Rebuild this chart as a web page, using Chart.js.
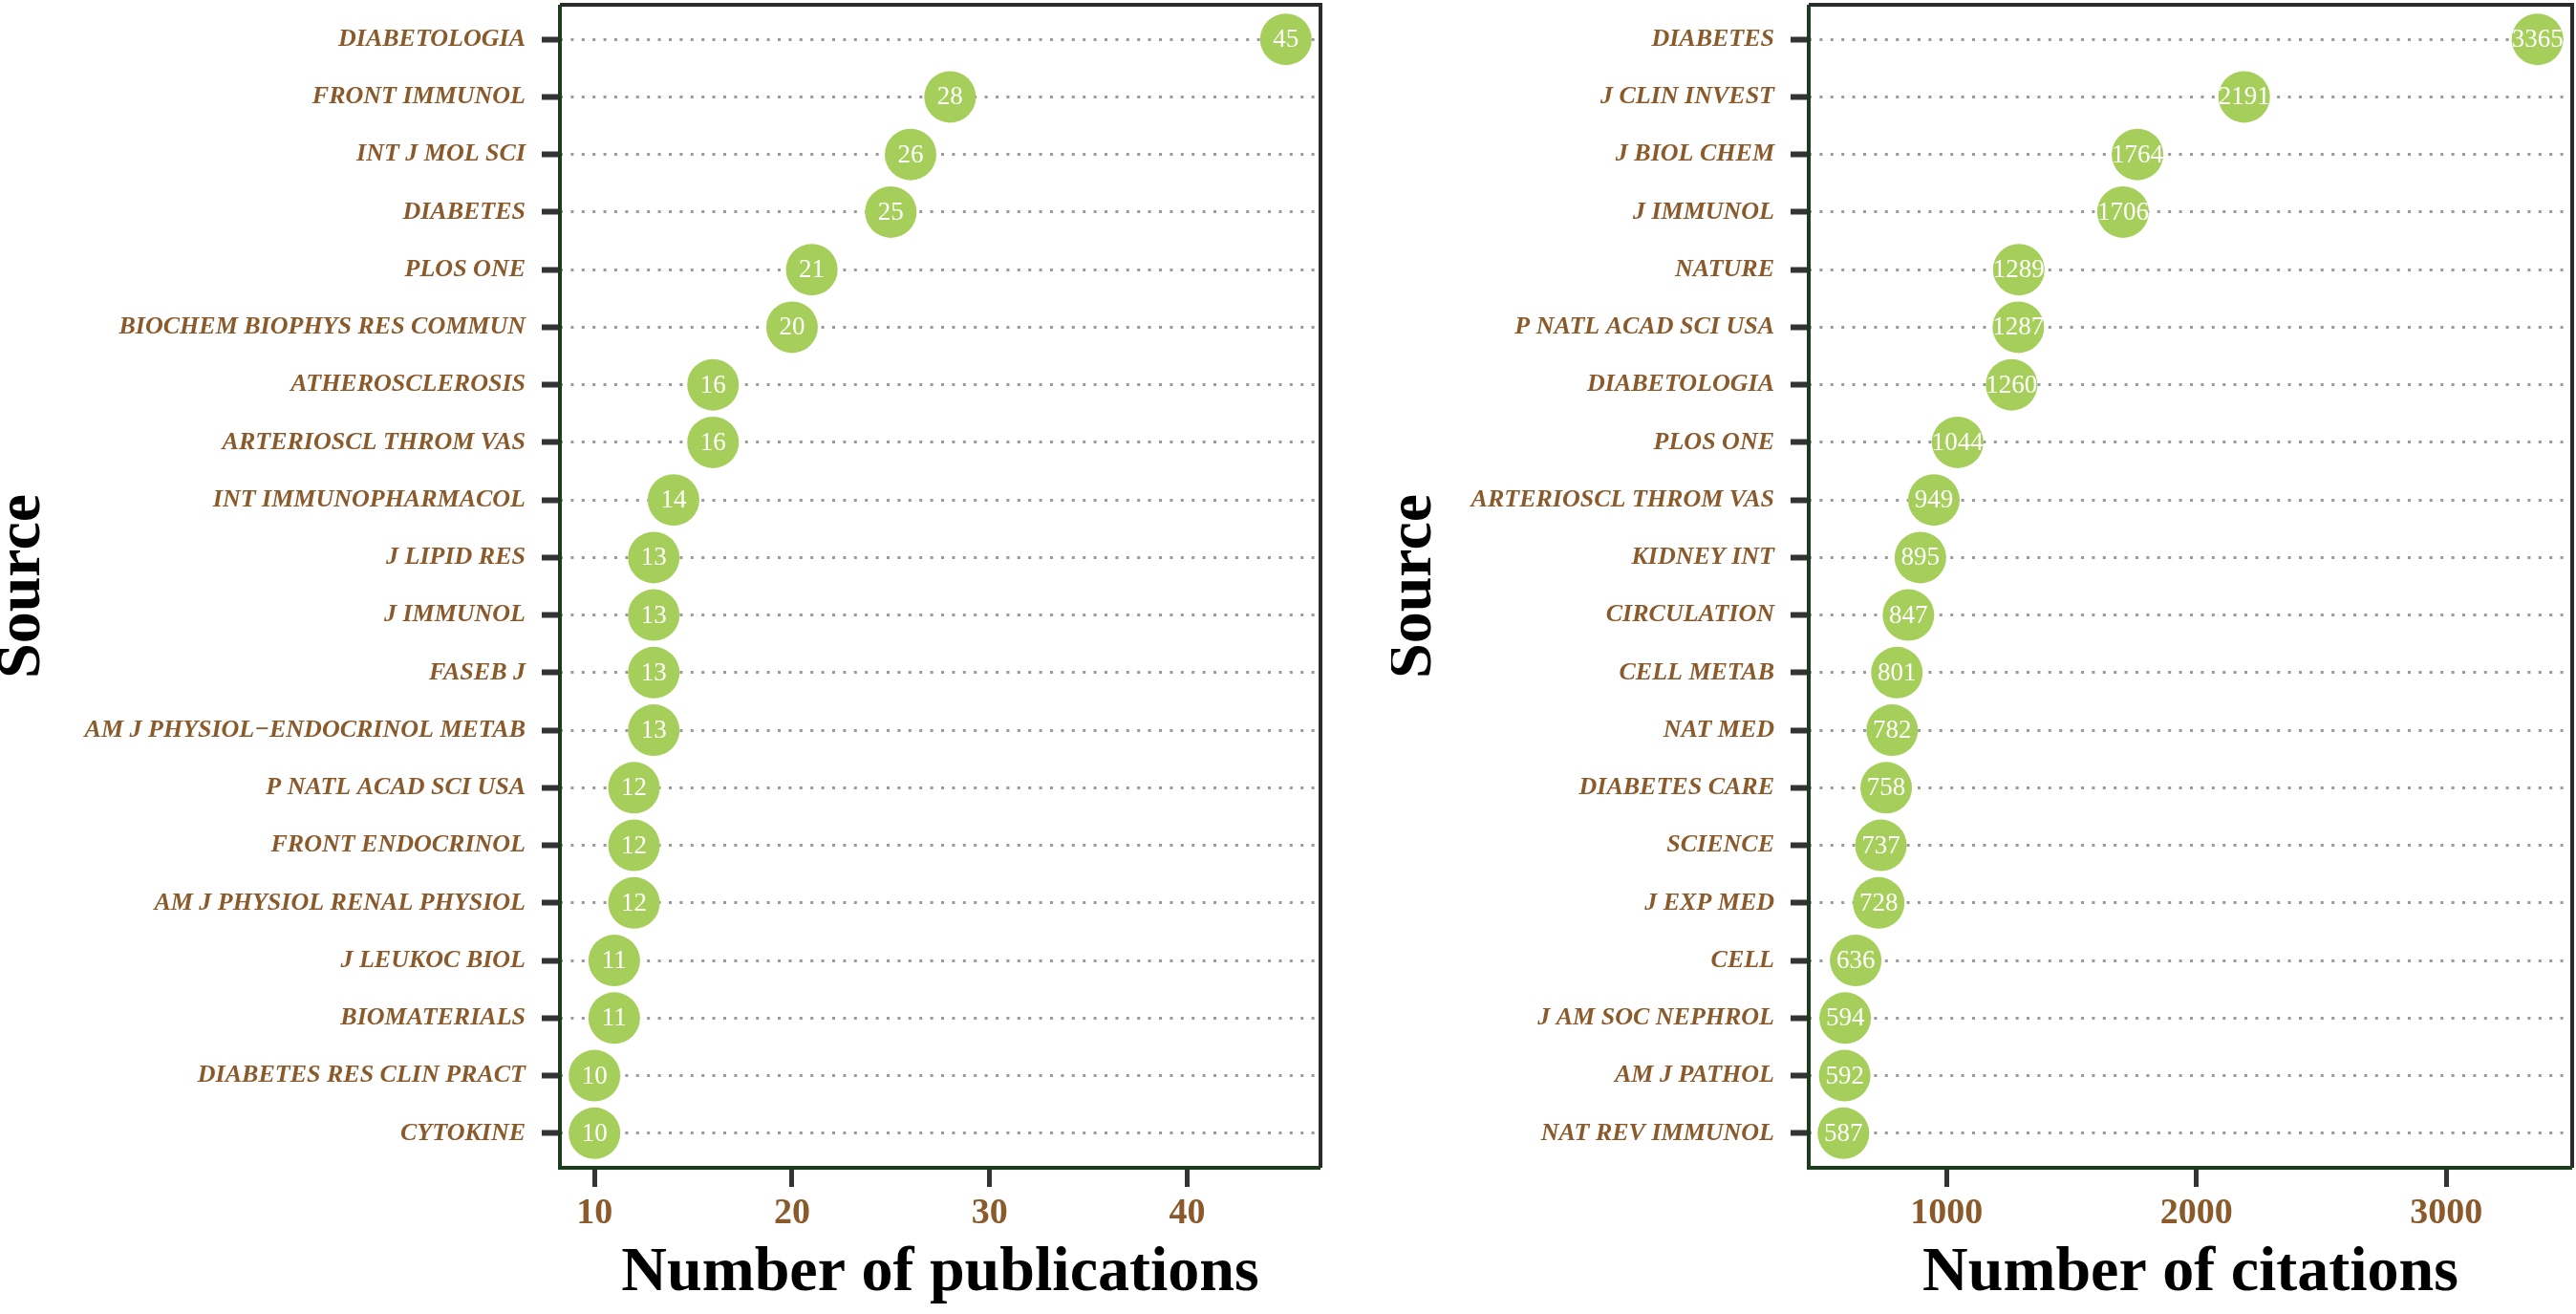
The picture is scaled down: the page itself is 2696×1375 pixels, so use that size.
<!DOCTYPE html>
<html><head><meta charset="utf-8">
<script src="https://cdn.jsdelivr.net/npm/chart.js@4.4.0/dist/chart.umd.min.js"></script>
<style>
html,body{margin:0;padding:0;background:#fff;width:2696px;height:1375px;overflow:hidden}
canvas{position:absolute;top:0}
#c1{left:0}
#c2{left:1456px}
</style></head><body>
<canvas id="c1" width="1400" height="1375" style="width:1400px;height:1375px"></canvas>
<canvas id="c2" width="1240" height="1375" style="width:1240px;height:1375px"></canvas>
<script>
const pubSources = ["DIABETOLOGIA","FRONT IMMUNOL","INT J MOL SCI","DIABETES","PLOS ONE","BIOCHEM BIOPHYS RES COMMUN","ATHEROSCLEROSIS","ARTERIOSCL THROM VAS","INT IMMUNOPHARMACOL","J LIPID RES","J IMMUNOL","FASEB J","AM J PHYSIOL\u2212ENDOCRINOL METAB","P NATL ACAD SCI USA","FRONT ENDOCRINOL","AM J PHYSIOL RENAL PHYSIOL","J LEUKOC BIOL","BIOMATERIALS","DIABETES RES CLIN PRACT","CYTOKINE"];
const pubCounts = [45,28,26,25,21,20,16,16,14,13,13,13,13,12,12,12,11,11,10,10];
const citSources = ["DIABETES","J CLIN INVEST","J BIOL CHEM","J IMMUNOL","NATURE","P NATL ACAD SCI USA","DIABETOLOGIA","PLOS ONE","ARTERIOSCL THROM VAS","KIDNEY INT","CIRCULATION","CELL METAB","NAT MED","DIABETES CARE","SCIENCE","J EXP MED","CELL","J AM SOC NEPHROL","AM J PATHOL","NAT REV IMMUNOL"];
const citCounts = [3365,2191,1764,1706,1289,1287,1260,1044,949,895,847,801,782,758,737,728,636,594,592,587];
const pubTicks = [10,20,30,40];
const citTicks = [1000,2000,3000];

const FONT = 'Liberation Serif';
const BROWN = '#8B5A2B';

const decor = {
  id: 'decor',
  afterDatasetsDraw(chart) {
    const ctx = chart.ctx;
    const meta = chart.getDatasetMeta(0);
    const data = chart.data.datasets[0].data;
    ctx.save();
    ctx.fillStyle = '#ffffff';
    ctx.font = '27px "' + FONT + '"';
    ctx.textAlign = 'center';
    ctx.textBaseline = 'middle';
    meta.data.forEach((el, i) => { ctx.fillText(String(data[i].x), el.x, el.y + 1); });
    ctx.restore();
  },
  afterDraw(chart) {
    const {left, right, top, bottom} = chart.chartArea;
    const ctx = chart.ctx;
    ctx.save();
    ctx.lineWidth = 4;
    ctx.setLineDash([]);
    ctx.strokeStyle = '#2b2b2b';
    ctx.beginPath(); ctx.moveTo(left, top); ctx.lineTo(right, top); ctx.lineTo(right, bottom); ctx.stroke();
    ctx.strokeStyle = '#1d3b1d';
    ctx.beginPath(); ctx.moveTo(left, top); ctx.lineTo(left, bottom); ctx.lineTo(right, bottom); ctx.stroke();
    ctx.restore();
  }
};

function makeChart(id, cats, vals, xmin, xmax, xticks, xtitle, yWidth, padRight) {
  return new Chart(document.getElementById(id), {
    type: 'scatter',
    data: {datasets: [{
      data: vals.map((v, i) => ({x: v, y: i})),
      backgroundColor: '#A5CF5A', borderWidth: 0,
      pointRadius: 27, pointHoverRadius: 27
    }]},
    options: {
      responsive: false, animation: false, devicePixelRatio: 1, events: [],
      layout: {autoPadding: false, padding: {left: 0, top: 5, right: padRight, bottom: 0}},
      plugins: {legend: {display: false}, tooltip: {enabled: false}},
      scales: {
        x: {
          type: 'linear', position: 'bottom', min: xmin, max: xmax,
          afterBuildTicks(s) { s.ticks = xticks.map(v => ({value: v})); },
          afterFit(s) { s.height = 153; s.paddingLeft = 0; s.paddingRight = 0; },
          grid: {drawOnChartArea: false, drawTicks: true, tickLength: 20, tickWidth: 5, tickColor: '#333333', tickBorderDash: []},
          border: {display: false},
          ticks: {padding: 5, color: BROWN, font: {family: FONT, size: 38, weight: 'bold'}, callback: v => String(v), autoSkip: false, maxRotation: 0},
          title: {display: true, text: xtitle, color: '#000', font: {family: FONT, size: 66, weight: 'bold', lineHeight: 1.2}, padding: {top: 0, bottom: 2}}
        },
        y: {
          type: 'linear', position: 'left', reverse: true, min: -0.6, max: cats.length - 0.4,
          afterBuildTicks(s) { s.ticks = cats.map((c, i) => ({value: i})); },
          afterFit(s) { s.width = yWidth; s.paddingTop = 0; s.paddingBottom = 0; },
          grid: {drawOnChartArea: true, color: '#9a9a9a', lineWidth: 3, borderDash: [3, 8.4], tickLength: 19, tickWidth: 6, tickColor: '#333333', tickBorderDash: []},
          border: {display: false, dash: [3, 8.4]},
          ticks: {padding: 17, color: BROWN, font: {family: FONT, size: 26, weight: 'bold', style: 'italic'}, callback: v => cats[v], autoSkip: false},
          title: {display: true, text: 'Source', color: '#000', font: {family: FONT, size: 66, weight: 'bold', lineHeight: 0.727}, padding: {top: 0, bottom: 0}}
        }
      }
    },
    plugins: [decor]
  });
}

makeChart('c1', pubSources, pubCounts, 8.25, 46.75, pubTicks, 'Number of publications', 586, 18);
makeChart('c2', citSources, citCounts, 448.1, 3503.9, citTicks, 'Number of citations', 437, 4);
</script>
</body></html>
